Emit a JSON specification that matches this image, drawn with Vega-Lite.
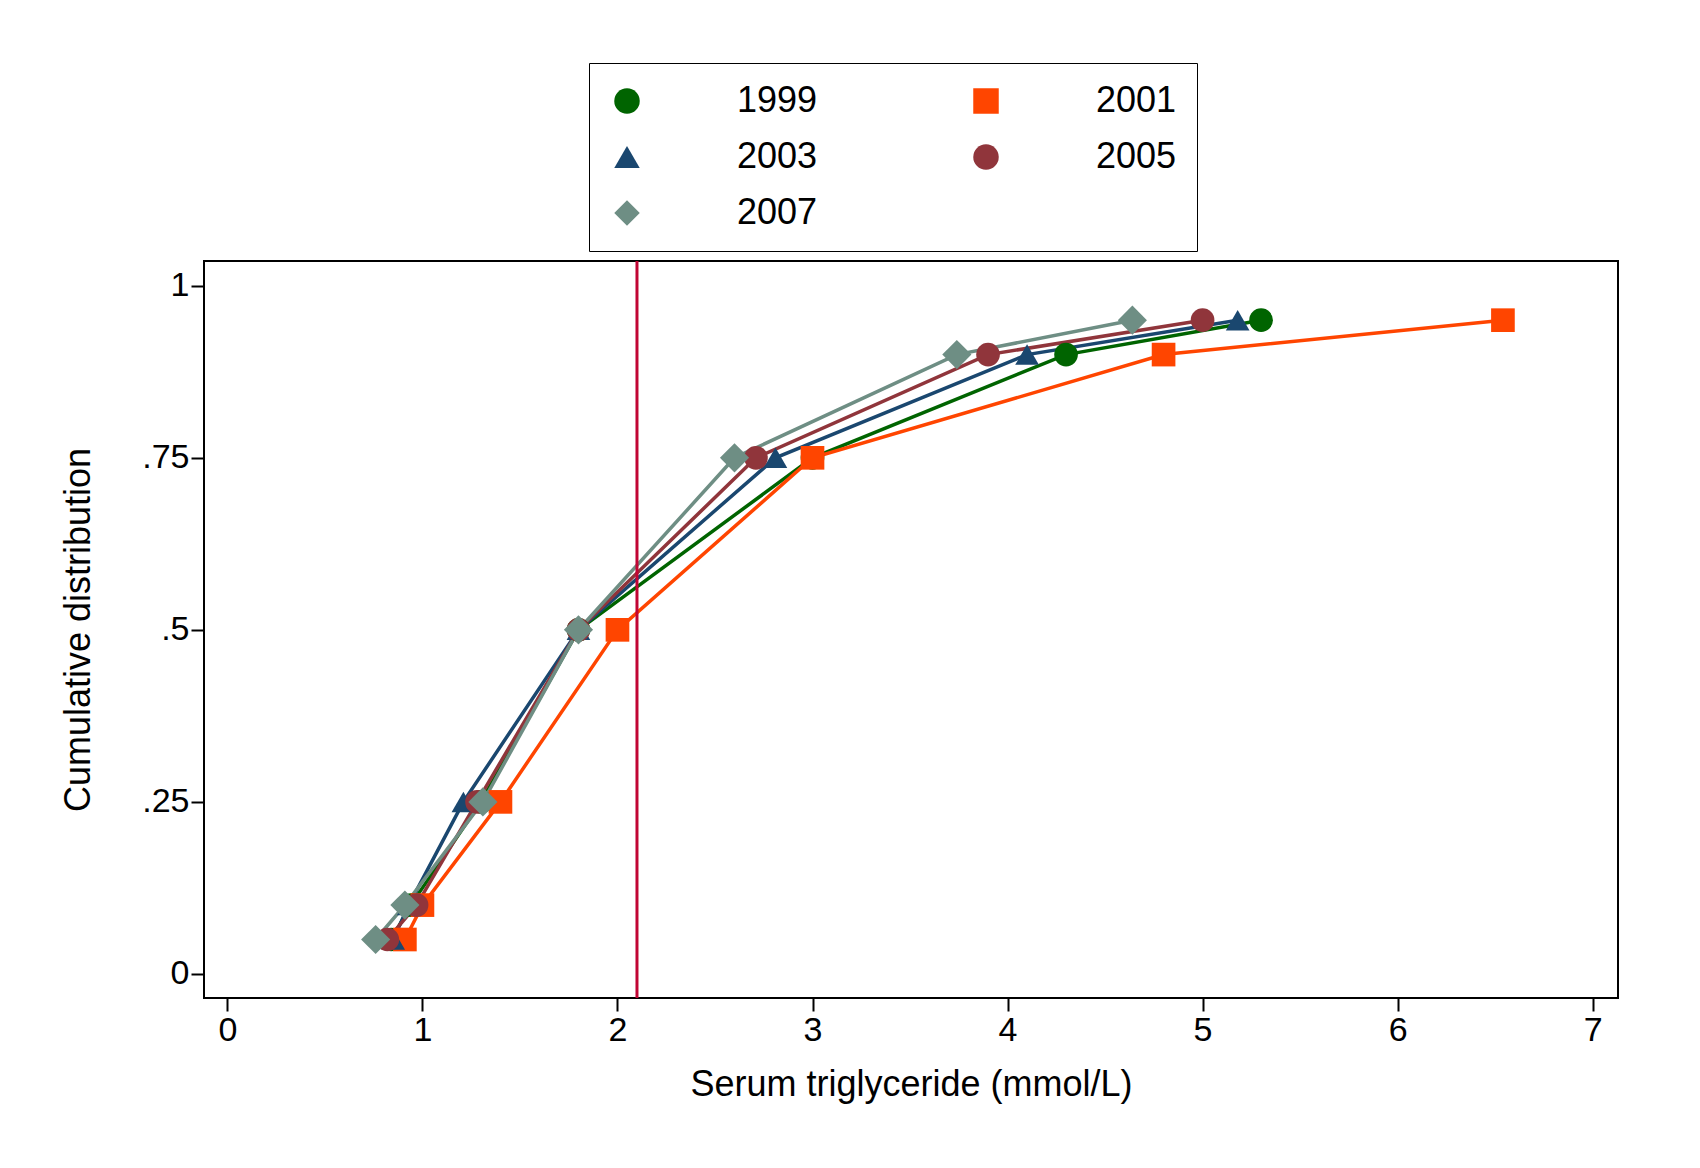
{
  "$schema": "https://vega.github.io/schema/vega-lite/v6.json",
  "width": 1700,
  "height": 1168,
  "autosize": {"type": "fit", "contains": "padding"},
  "padding": {"left": 60, "right": 82, "top": 259, "bottom": 66},
  "background": "white",
  "config": {
    "font": "Liberation Sans",
    "view": {"stroke": "black", "strokeWidth": 2},
    "axis": {"labelFontSize": 34, "titleFontSize": 36, "labelColor": "black", "titleColor": "black", "domain": false, "tickColor": "black", "tickSize": 13, "tickWidth": 2, "grid": false, "titleFontWeight": "normal"}
  },
  "data": {"values": [
    {"year": "1999", "x": 0.84, "p": 0.05}, {"year": "1999", "x": 0.94, "p": 0.10}, {"year": "1999", "x": 1.30, "p": 0.25}, {"year": "1999", "x": 1.80, "p": 0.50}, {"year": "1999", "x": 3.00, "p": 0.75}, {"year": "1999", "x": 4.30, "p": 0.90}, {"year": "1999", "x": 5.30, "p": 0.95},
    {"year": "2001", "x": 0.91, "p": 0.05}, {"year": "2001", "x": 1.00, "p": 0.10}, {"year": "2001", "x": 1.40, "p": 0.25}, {"year": "2001", "x": 2.00, "p": 0.50}, {"year": "2001", "x": 3.00, "p": 0.75}, {"year": "2001", "x": 4.80, "p": 0.90}, {"year": "2001", "x": 6.54, "p": 0.95},
    {"year": "2003", "x": 0.85, "p": 0.05}, {"year": "2003", "x": 0.93, "p": 0.10}, {"year": "2003", "x": 1.21, "p": 0.25}, {"year": "2003", "x": 1.80, "p": 0.50}, {"year": "2003", "x": 2.81, "p": 0.75}, {"year": "2003", "x": 4.10, "p": 0.90}, {"year": "2003", "x": 5.18, "p": 0.95},
    {"year": "2005", "x": 0.82, "p": 0.05}, {"year": "2005", "x": 0.97, "p": 0.10}, {"year": "2005", "x": 1.28, "p": 0.25}, {"year": "2005", "x": 1.80, "p": 0.50}, {"year": "2005", "x": 2.71, "p": 0.75}, {"year": "2005", "x": 3.90, "p": 0.90}, {"year": "2005", "x": 5.00, "p": 0.95},
    {"year": "2007", "x": 0.76, "p": 0.05}, {"year": "2007", "x": 0.91, "p": 0.10}, {"year": "2007", "x": 1.31, "p": 0.25}, {"year": "2007", "x": 1.80, "p": 0.50}, {"year": "2007", "x": 2.60, "p": 0.75}, {"year": "2007", "x": 3.74, "p": 0.90}, {"year": "2007", "x": 4.64, "p": 0.95}
  ]},
  "encoding": {
    "x": {"field": "x", "type": "quantitative", "title": "Serum triglyceride (mmol/L)", "scale": {"domain": [-0.12, 7.13], "nice": false, "zero": false}, "axis": {"values": [0, 1, 2, 3, 4, 5, 6, 7], "titlePadding": 20}},
    "y": {"field": "p", "type": "quantitative", "title": "Cumulative distribution", "scale": {"domain": [-0.035, 1.036], "nice": false}, "axis": {"values": [0, 0.25, 0.5, 0.75, 1], "labelExpr": "datum.value == 0 ? '0' : datum.value == 1 ? '1' : replace(format(datum.value, '.2~f'), '0.', '.')", "titlePadding": 44}},
    "color": {"field": "year", "type": "nominal", "scale": {"domain": ["1999", "2001", "2003", "2005", "2007"], "range": ["#006400", "#ff4500", "#1a476f", "#90353b", "#6e8e84"]},
      "legend": {"orient": "none", "direction": "horizontal", "legendX": 385, "legendY": -198, "columns": 2, "title": null, "labelFontSize": 36, "labelColor": "black", "symbolSize": 650, "symbolStrokeWidth": 0, "columnPadding": 150, "rowPadding": 20, "labelOffset": 92, "strokeColor": "black", "padding": 20, "symbolOpacity": 1}},
    "shape": {"field": "year", "type": "nominal", "scale": {"domain": ["1999", "2001", "2003", "2005", "2007"], "range": ["circle", "square", "triangle-up", "circle", "diamond"]}}
  },
  "layer": [
    {"mark": {"type": "line", "strokeWidth": 3.5}, "encoding": {"shape": {"value": "circle"}}},
    {"mark": {"type": "point", "filled": true, "size": 560, "opacity": 1}, "encoding": {"size": {"condition": {"test": "datum.year == '2007'", "value": 850}, "value": 560}}},
    {"data": {"values": [{"v": 2.1}]}, "mark": {"type": "rule", "color": "#c10534", "strokeWidth": 3}, "encoding": {"x": {"field": "v", "type": "quantitative"}, "y": null, "color": null, "shape": null}}
  ]
}
